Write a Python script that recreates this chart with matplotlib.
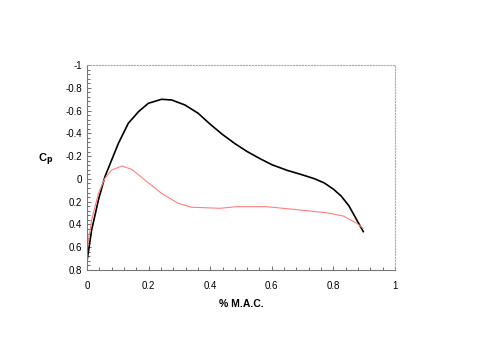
import matplotlib.pyplot as plt
from matplotlib.ticker import MultipleLocator, FuncFormatter

plt.rcParams['font.family'] = ['Liberation Sans', 'DejaVu Sans']

# upper surface (black)
x_black = [0.0, 0.015, 0.037, 0.058, 0.08, 0.102, 0.134, 0.167, 0.199, 0.242, 0.275,
           0.318, 0.361, 0.40, 0.44, 0.48, 0.52, 0.56, 0.60, 0.65, 0.70, 0.74, 0.77,
           0.80, 0.825, 0.85, 0.876, 0.897]
cp_black = [0.72, 0.449, 0.185, -0.019, -0.166, -0.313, -0.488, -0.59, -0.664, -0.699, -0.693,
            -0.649, -0.576, -0.48, -0.39, -0.31, -0.24, -0.18, -0.125, -0.075, -0.035, 0.0, 0.035,
            0.09, 0.15, 0.235, 0.361, 0.463]

# lower surface (red)
x_red = [0.0, 0.015, 0.037, 0.058, 0.08, 0.113, 0.145, 0.188, 0.242, 0.296, 0.34,
         0.383, 0.432, 0.486, 0.583, 0.67, 0.778, 0.832, 0.876, 0.897]
cp_red = [0.62, 0.36, 0.127, -0.005, -0.078, -0.113, -0.084, 0.01, 0.127, 0.214, 0.249,
          0.253, 0.258, 0.244, 0.244, 0.267, 0.297, 0.326, 0.39, 0.434]

fig = plt.figure(figsize=(4.95, 3.39), dpi=100)
ax = fig.add_axes([0.1758, 0.2035, 0.6222, 0.6047])

ax.plot(x_black, cp_black, color='black', lw=1.2)
ax.plot(x_red, cp_red, color='#ff8080', lw=0.8)

ax.set_xlim(0, 1)
ax.set_ylim(0.8, -1)

ax.xaxis.set_major_locator(MultipleLocator(0.2))
ax.xaxis.set_minor_locator(MultipleLocator(0.04))
ax.yaxis.set_major_locator(MultipleLocator(0.2))
ax.yaxis.set_minor_locator(MultipleLocator(0.04))
fmt = FuncFormatter(lambda v, p: '%g' % round(v, 2))
ax.xaxis.set_major_formatter(fmt)
ax.yaxis.set_major_formatter(fmt)
ax.tick_params(which='both', direction='in', labelsize=7, width=0.6, color='#555555')
ax.tick_params(which='major', length=3)
ax.tick_params(which='minor', length=2)
ax.tick_params(axis='x', pad=8)

for s in ['top', 'right']:
    ax.spines[s].set_linestyle(':')
    ax.spines[s].set_color('#aaaaaa')
    ax.spines[s].set_linewidth(0.8)
for s in ['left', 'bottom']:
    ax.spines[s].set_color('#777777')
    ax.spines[s].set_linewidth(0.8)

ax.set_xlabel('% M.A.C.', fontsize=7.5, fontweight='bold', labelpad=6)
ax.set_ylabel('C$_\\mathbf{p}$', fontsize=8, fontweight='bold', rotation=0, labelpad=14)

fig.savefig('out.png', dpi=100)
